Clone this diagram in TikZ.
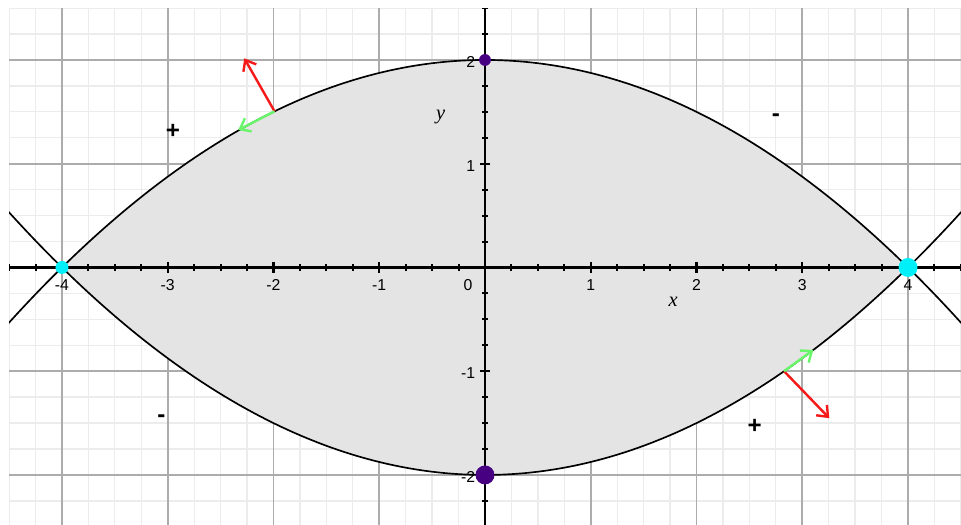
\documentclass[tikz,border=0pt]{standalone}
\usepackage{fontspec}
\setsansfont{Liberation Sans}
\newfontfamily\serifit{Liberation Serif}
\usepackage{tikz}
\usetikzlibrary{arrows.meta}

\definecolor{gridmajor}{RGB}{172,172,172}
\definecolor{gridminor}{RGB}{236,236,236}
\definecolor{regionfill}{RGB}{228,228,228}
\definecolor{dotpurple}{RGB}{72,0,130}
\definecolor{dotcyan}{RGB}{0,240,250}
\definecolor{normalred}{RGB}{245,25,25}
\definecolor{tangentgreen}{RGB}{105,245,105}

\tikzset{
  ticklabel/.style={font=\sffamily\fontsize{8.5}{10}\selectfont, inner sep=0pt},
  signlabel/.style={font=\sffamily\bfseries\fontsize{13}{15}\selectfont, inner sep=0pt},
  varlabel/.style={font=\serifit\itshape\fontsize{11}{13}\selectfont, inner sep=0pt},
  vecarrow/.style={line width=1.3pt, -{Straight Barb[length=5pt,width=8pt]}}
}

\begin{document}
\begin{tikzpicture}[x=2cm, y=1.962cm]
  \useasboundingbox (-4.586,-2.482) rectangle (4.501,2.578);
  \fill[white] (-4.586,-2.482) rectangle (4.501,2.578);

  \begin{scope}
  \clip (-4.5,-2.482) rectangle (4.501,2.5);

  % Grille
  \foreach \gx in {-4.5,-4.25,...,4.6}
    \draw[gridminor, line width=0.7pt] (\gx,-2.6) -- (\gx,2.6);
  \foreach \gy in {-2.5,-2.25,...,2.6}
    \draw[gridminor, line width=0.7pt] (-4.6,\gy) -- (4.6,\gy);
  \foreach \gx in {-4,...,4}
    \draw[gridmajor, line width=0.9pt] (\gx,-2.6) -- (\gx,2.6);
  \foreach \gy in {-2,...,2}
    \draw[gridmajor, line width=0.9pt] (-4.6,\gy) -- (4.6,\gy);

  % Domaine entre les deux paraboles
  \fill[regionfill] plot[domain=-4:4, samples=120] (\x,{2-\x*\x/8})
    -- plot[domain=4:-4, samples=120] (\x,{-2+\x*\x/8}) -- cycle;

  % Paraboles y = 2 - x^2/8 et y = -2 + x^2/8
  \draw[line width=0.9pt, domain=-4.7:4.7, samples=140] plot (\x,{2-\x*\x/8});
  \draw[line width=0.9pt, domain=-4.7:4.7, samples=140] plot (\x,{-2+\x*\x/8});

  % Axes
  \draw[line width=1.4pt] (-4.6,0) -- (4.6,0);
  \draw[line width=1.4pt] (0,-2.6) -- (0,2.6);
  \foreach \tx in {-4.5,-4.25,...,4.6}
    \draw[line width=1.1pt] (\tx,-0.03) -- (\tx,0.03);
  \foreach \ty in {-2.5,-2.25,...,2.6}
    \draw[line width=1.1pt] (-0.03,\ty) -- (0.03,\ty);
  \foreach \tx in {-4,...,4}
    \draw[line width=1.1pt] (\tx,-0.05) -- (\tx,0.05);
  \foreach \ty in {-2,...,2}
    \draw[line width=1.1pt] (-0.05,\ty) -- (0.05,\ty);
  \end{scope}

  % Graduations
  \foreach \i in {-4,-3,-2,-1,1,2,3,4}
    \node[ticklabel] (xt\i) at (\i,-0.17) {\i};
  \node[ticklabel] (xt0) at (-0.16,-0.17) {0};
  \foreach \j in {-2,-1,1,2}
    \node[ticklabel, anchor=east] (yt\j) at (-0.09,\j-0.02) {\j};

  \node[varlabel] (xvar) at (1.78,-0.33) {x};
  \node[varlabel] (yvar) at (-0.42,1.45) {y};

  % Signes
  \node[signlabel] (plusUL) at (-2.95,1.31) {+};
  \node[signlabel] (minusUR) at (2.75,1.44) {-};
  \node[signlabel] (minusLL) at (-3.06,-1.46) {-};
  \node[signlabel] (plusLR) at (2.55,-1.53) {+};

  % Points
  \coordinate (topv) at (0,2);
  \coordinate (botv) at (0,-2);
  \coordinate (leftv) at (-4,0);
  \coordinate (rightv) at (4,0);
  \fill[dotpurple] (topv) circle (3.2pt);
  \fill[dotpurple] (botv) circle (5.1pt);
  \fill[dotcyan] (leftv) circle (3.5pt);
  \fill[dotcyan] (rightv) circle (5.1pt);

  % Normale et tangente
  \coordinate (pUL) at (-1.99,1.505);
  \coordinate (nUL) at (-2.276,2.016);
  \coordinate (tUL) at (-2.333,1.325);
  \draw[vecarrow, normalred] (pUL) -- (nUL);
  \draw[vecarrow, tangentgreen] (pUL) -- (tUL);

  \coordinate (pLR) at (2.828,-1);
  \coordinate (nLR) at (3.256,-1.453);
  \coordinate (tLR) at (3.105,-0.795);
  \draw[vecarrow, normalred] (pLR) -- (nLR);
  \draw[vecarrow, tangentgreen] (pLR) -- (tLR);
\end{tikzpicture}
\end{document}
